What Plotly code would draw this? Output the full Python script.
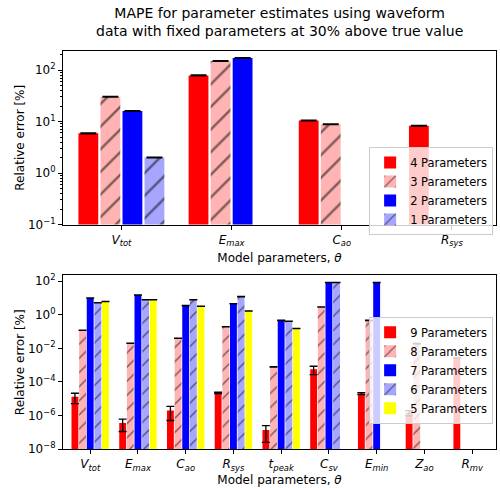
import plotly.graph_objects as go
from plotly.subplots import make_subplots

# ---- top panel: 4-parameter problem ----
top_keys = ["Vtot", "Emax", "Cao", "Rsys"]
top_labels = ["<i>V</i><sub><i>tot</i></sub>", "<i>E</i><sub><i>max</i></sub>",
              "<i>C</i><sub><i>ao</i></sub>", "<i>R</i><sub><i>sys</i></sub>"]
top_4p = [5.9, 78.8, 10.5, 8.3]
top_4p_err = [0.12, 1.5, 0.2, 0.15]
top_3p = [30.3, 150.0, 8.9, None]
top_3p_err = [0.5, 2.5, 0.15, None]
top_2p = [16.0, 171.0, None, None]
top_2p_err = [0.3, 3.0, None, None]
top_1p = [2.0, None, None, None]
top_1p_err = [0.03, None, None, None]

# ---- bottom panel: 9-parameter problem ----
bot_keys = ["Vtot", "Emax", "Cao", "Rsys", "tpeak", "Csv", "Emin", "Zao", "Rmv"]
bot_labels = ["<i>V</i><sub><i>tot</i></sub>", "<i>E</i><sub><i>max</i></sub>",
              "<i>C</i><sub><i>ao</i></sub>", "<i>R</i><sub><i>sys</i></sub>",
              "<i>t</i><sub><i>peak</i></sub>", "<i>C</i><sub><i>sv</i></sub>",
              "<i>E</i><sub><i>min</i></sub>", "<i>Z</i><sub><i>ao</i></sub>",
              "<i>R</i><sub><i>mv</i></sub>"]
p9 = [1.3e-5, 3.6e-7, 2.0e-6, 2.2e-5, 1.35e-7, 5.6e-4, 2.0e-5, 1.45e-6, 2.7e-3]
p9_err = [0.8e-5, 2.5e-7, 1.5e-6, 0.2e-5, 1.1e-7, 2.9e-4, 0.25e-5, 0.5e-6, 0.0]
p8 = [0.12, 0.020, 0.040, 0.19, 7.8e-4, 2.9, 0.46, 0.019, None]
p8_err = [0.002, 0.0004, 0.0008, 0.003, 1.5e-5, 0.05, 0.008, 0.0003, None]
p7 = [9.8, 14.8, 3.5, 4.5, 0.46, 83.0, 83.0, None, None]
p7_err = [0.15, 0.25, 0.06, 0.08, 0.008, 1.5, 1.5, None, None]
p6 = [5.2, 7.8, 7.8, 12.0, 0.41, 83.0, None, None, None]
p6_err = [0.09, 0.13, 0.13, 0.2, 0.007, 1.5, None, None, None]
p5 = [6.2, 7.8, 3.2, 1.65, 0.15, None, None, None, None]
p5_err = [0.1, 0.13, 0.05, 0.03, 0.003, None, None, None, None]

RED = "#ff0000"
PINK = "#ffb3b3"
BLUE = "#0000ff"
LBLUE = "#a6a6ff"
YELLOW = "#ffff00"

fig = make_subplots(rows=2, cols=1, vertical_spacing=0.128)


def add_bar(name, keys, vals, errs, color, hatch, row, legend, cap, hsize):
    pattern = dict(shape="/", fgcolor="black", bgcolor=color, size=hsize, solidity=0.15) if hatch else dict(shape="")
    fig.add_trace(go.Bar(
        name=name, x=keys, y=vals,
        marker=dict(color=color, line=dict(width=0), pattern=pattern),
        error_y=dict(type="data", array=errs, visible=True, color="black",
                     thickness=1.3, width=cap),
        legend=legend,
    ), row=row, col=1)


add_bar("4 Parameters", top_keys, top_4p, top_4p_err, RED, False, 1, "legend", 8, 16)
add_bar("3 Parameters", top_keys, top_3p, top_3p_err, PINK, True, 1, "legend", 8, 16)
add_bar("2 Parameters", top_keys, top_2p, top_2p_err, BLUE, False, 1, "legend", 8, 16)
add_bar("1 Parameters", top_keys, top_1p, top_1p_err, LBLUE, True, 1, "legend", 8, 16)

add_bar("9 Parameters", bot_keys, p9, p9_err, RED, False, 2, "legend2", 4, 10)
add_bar("8 Parameters", bot_keys, p8, p8_err, PINK, True, 2, "legend2", 4, 10)
add_bar("7 Parameters", bot_keys, p7, p7_err, BLUE, False, 2, "legend2", 4, 10)
add_bar("6 Parameters", bot_keys, p6, p6_err, LBLUE, True, 2, "legend2", 4, 10)
add_bar("5 Parameters", bot_keys, p5, p5_err, YELLOW, False, 2, "legend2", 4, 10)

axis_font = dict(family="DejaVu Sans", size=12, color="black")
common_x = dict(type="category", showline=True, mirror=True, linecolor="black", linewidth=1,
                ticks="outside", ticklen=4, tickcolor="black", tickfont=axis_font,
                showgrid=False, zeroline=False)
common_y = dict(type="log", showline=True, mirror=True, linecolor="black", linewidth=1,
                ticks="outside", ticklen=4, tickcolor="black", tickfont=axis_font,
                title=dict(text="Relative error [%]", font=axis_font, standoff=0),
                showgrid=False, zeroline=False)

fig.update_xaxes(common_x, row=1, col=1)
fig.update_xaxes(common_x, row=2, col=1)
fig.update_xaxes(range=[-0.53, 3.40], tickvals=top_keys, ticktext=top_labels,
                 title=dict(text="Model parameters, <i>θ</i>", font=axis_font, standoff=6),
                 row=1, col=1)
fig.update_xaxes(range=[-0.57, 8.50], tickvals=bot_keys, ticktext=bot_labels,
                 title=dict(text="Model parameters, <i>θ</i>", font=axis_font, standoff=3),
                 row=2, col=1)

fig.update_yaxes(common_y, row=1, col=1)
fig.update_yaxes(common_y, row=2, col=1)
fig.update_yaxes(range=[-1, 2.37],
                 tickvals=[0.1, 1, 10, 100],
                 ticktext=["10<sup>−1</sup>", "10<sup>0</sup>", "10<sup>1</sup>", "10<sup>2</sup>"],
                 minor=dict(ticks="outside", ticklen=2, tickcolor="black",
                            tickvals=[m * 10 ** e for e in (-1, 0, 1, 2) for m in range(2, 10)]),
                 row=1, col=1)
fig.update_yaxes(range=[-8, 2.34],
                 tickvals=[1e-8, 1e-6, 1e-4, 1e-2, 1, 100],
                 ticktext=["10<sup>−8</sup>", "10<sup>−6</sup>", "10<sup>−4</sup>",
                           "10<sup>−2</sup>", "10<sup>0</sup>", "10<sup>2</sup>"],
                 row=2, col=1)

legend_style = dict(bgcolor="rgba(255,255,255,0.8)", bordercolor="#cccccc", borderwidth=1,
                    font=dict(family="DejaVu Sans", size=11.5, color="black"),
                    xanchor="left", yanchor="top", tracegroupgap=0, itemwidth=30)

fig.update_layout(
    width=500, height=488,
    margin=dict(l=63, r=4, t=51, b=39),
    paper_bgcolor="white", plot_bgcolor="white",
    barmode="group", bargap=0.2, bargroupgap=0.1,
    font=dict(family="DejaVu Sans", color="black"),
    legend=dict(legend_style, x=0.707, y=0.759),
    legend2=dict(legend_style, x=0.707, y=0.332),
    showlegend=True,
)

# two-line figure title above both panels
fig.add_annotation(
    text="MAPE for parameter estimates using waveform<br>data with fixed parameters at 30% above true value",
    xref="paper", yref="paper", x=0.5, y=1.073, xanchor="center", yanchor="middle",
    showarrow=False, font=dict(family="DejaVu Sans", size=14, color="black"),
)

fig.write_html("out.html")
